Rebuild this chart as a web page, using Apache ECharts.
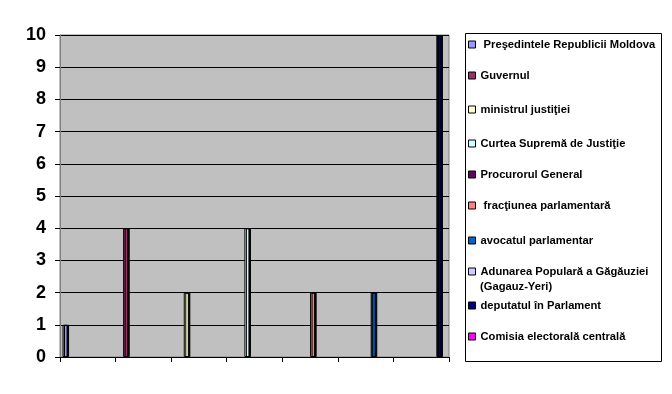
<!DOCTYPE html>
<html>
<head>
<meta charset="utf-8">
<script src="https://cdn.jsdelivr.net/npm/echarts@6/dist/echarts.min.js"></script>
<style>
html,body{margin:0;padding:0;background:#fff;}
#c{width:672px;height:394px;}
</style>
</head>
<body>
<div id="c"></div>
<script>
// ---- data ----
const categories = ['', '', '', '', '', '', ''];
const seriesNames = [
  'Preşedintele Republicii Moldova',
  'Guvernul',
  'ministrul justiţiei',
  'Curtea Supremă de Justiţie',
  'Procurorul General',
  'fracţiunea parlamentară',
  'avocatul parlamentar',
  'Adunarea Populară a Găgăuziei (Gagauz-Yeri)',
  'deputatul în Parlament',
  'Comisia electorală centrală'
];
const presedintele = [1, null, null, null, null, null, null];
const guvernul     = [null, 4, null, null, null, null, null];
const ministrul    = [null, null, 2, null, null, null, null];
const curtea       = [null, null, null, 4, null, null, null];
const procurorul   = [null, null, null, null, null, null, null];
const fractiunea   = [null, null, null, null, 2, null, null];
const avocatul     = [null, null, null, null, null, 2, null];
const adunarea     = [null, null, null, null, null, null, null];
const deputatul    = [null, null, null, null, null, null, 10];
const comisia      = [null, null, null, null, null, null, null];
const seriesValues = [presedintele, guvernul, ministrul, curtea, procurorul,
                      fractiunea, avocatul, adunarea, deputatul, comisia];
const colors = ['#9999FF', '#993366', '#FFFFCC', '#CCFFFF', '#660066',
                '#FF8080', '#0066CC', '#CCCCFF', '#000080', '#FF00FF'];
const yTicks = { min: 0, max: 10, interval: 1 };

// ---- chart ----
const chart = echarts.init(document.getElementById('c'), null, {renderer: 'canvas'});
const legendCenters = [44, 75, 109, 143, 174, 205, 240, 271, 305, 336];
const font = 'Arial, "Liberation Sans", sans-serif';
const legendFontSize = 11.2;

const legends = seriesNames.map((n, i) => ({
  data: [n],
  orient: 'vertical',
  left: 468,
  top: legendCenters[i] - 5,
  padding: 0,
  itemWidth: 7,
  itemHeight: 7,
  itemGap: 0,
  icon: 'rect',
  selectedMode: false,
  itemStyle: {borderColor: '#000', borderWidth: 1},
  formatter: function (name) {
    if (name.indexOf('Adunarea') === 0) return 'Adunarea Populară a Găgăuziei';
    if (name.indexOf('Preşedintele') === 0 || name.indexOf('fracţiunea') === 0) return ' ' + name;
    return name;
  },
  textStyle: {fontFamily: font, fontWeight: 'bold', fontSize: legendFontSize, color: '#000'}
}));

const series = seriesNames.map((n, i) => ({
  name: n,
  type: 'bar',
  data: seriesValues[i],
  barGap: '0%',
  barCategoryGap: '9.09%',
  itemStyle: {
    color: colors[i],
    borderColor: '#000',
    borderWidth: 1,
    shadowColor: '#000',
    shadowOffsetX: 1.5,
    shadowBlur: 0
  },
  emphasis: {disabled: true},
  animation: false
}));

chart.setOption({
  animation: false,
  backgroundColor: '#fff',
  color: colors,
  grid: {
    left: 60, top: 35, width: 389, height: 322,
    show: true, backgroundColor: '#C0C0C0', borderColor: '#808080', borderWidth: 1
  },
  graphic: [{
    type: 'rect', silent: true, z: -1,
    shape: {x: 465.5, y: 33.5, width: 196, height: 328},
    style: {fill: '#fff', stroke: '#000', lineWidth: 1}
  }, {
    type: 'text', silent: true,
    left: 480, top: legendCenters[7] + 10,
    style: {text: '(Gagauz-Yeri)', fontFamily: font, fontWeight: 'bold', fontSize: legendFontSize, fill: '#000'}
  }],
  legend: legends,
  xAxis: {
    type: 'category',
    data: categories,
    boundaryGap: true,
    axisLine: {show: true, lineStyle: {color: '#000', width: 1}},
    axisTick: {show: true, length: 5, alignWithLabel: false, lineStyle: {color: '#000'}},
    axisLabel: {show: false},
    splitLine: {show: false}
  },
  yAxis: {
    type: 'value',
    min: yTicks.min, max: yTicks.max, interval: yTicks.interval,
    axisLine: {show: true, lineStyle: {color: '#808080', width: 1}},
    axisTick: {show: true, length: 5, lineStyle: {color: '#000'}},
    axisLabel: {fontFamily: font, fontWeight: 'bold', fontSize: 18, color: '#000', margin: 14},
    splitLine: {show: true, lineStyle: {color: '#000', width: 1}}
  },
  series: series
});
</script>
</body>
</html>
